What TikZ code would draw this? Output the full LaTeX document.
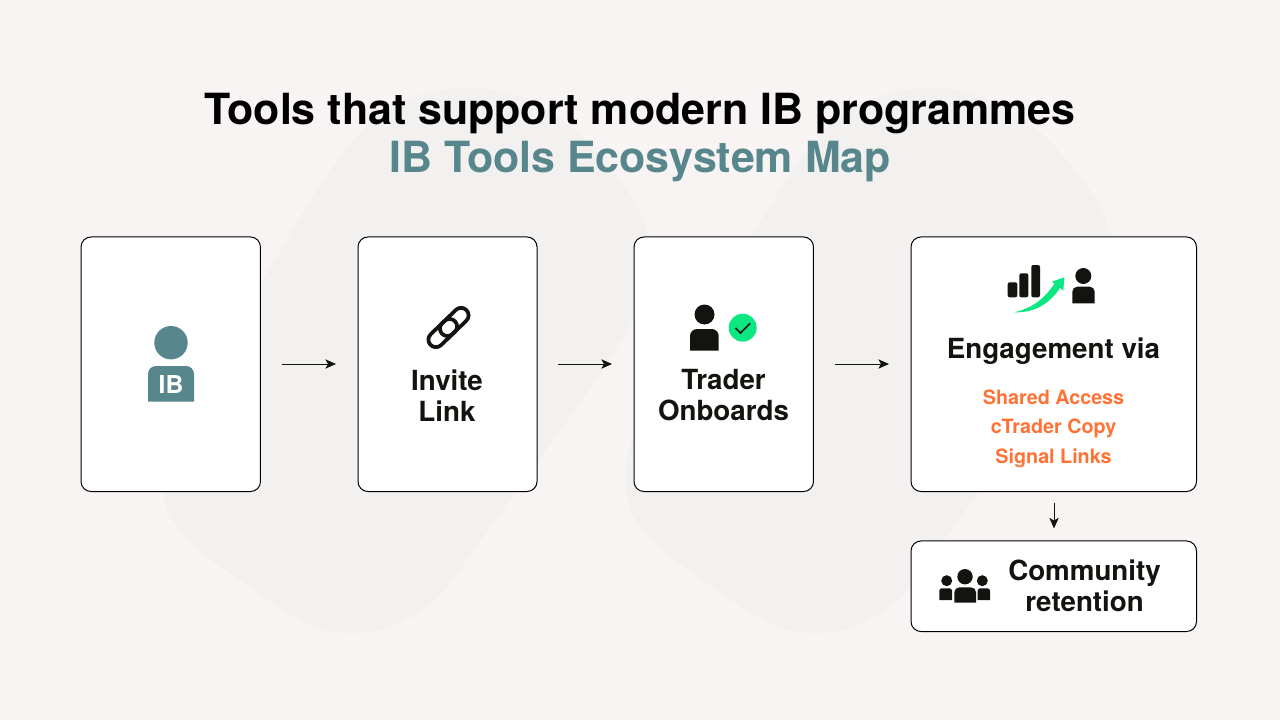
\documentclass[tikz,border=0pt]{standalone}
\usepackage{fontspec}
\setmainfont{TeX Gyre Heros}
\newfontfamily\headfont{TeX Gyre Heros Bold}
\usetikzlibrary{arrows.meta}
\definecolor{pagebg}{HTML}{F7F4F3}
\definecolor{blobbg}{HTML}{F2F1EF}
\definecolor{inkblack}{HTML}{13130F}
\definecolor{tealib}{HTML}{57868C}
\definecolor{greenok}{HTML}{0BE881}
\definecolor{orangetool}{HTML}{FF7236}
\tikzset{
  card/.style={draw=black,fill=white,line width=0.75pt,rounded corners=7.5pt,inner sep=0pt,outer sep=0pt},
  flow/.style={draw=inkblack,line width=0.75pt,-{Stealth[length=8pt,width=7pt,inset=2pt]}},
  heading/.style={font=\fontsize{32.2}{37}\headfont,anchor=center},
  label/.style={font=\fontsize{20.8}{23.2}\headfont,text=inkblack,align=center,anchor=center},
  tool/.style={font=\fontsize{14.8}{22}\headfont,text=orangetool,anchor=center},
}
% body of a person icon: left, right, top, bottom, corner radius
\newcommand{\personbody}[5]{(#1,#4) -- (#1,#3+#5) arc[start angle=180,end angle=270,radius=#5] -- (#2-#5,#3) arc[start angle=270,end angle=360,radius=#5] -- (#2,#4) -- cycle}
\begin{document}
\begin{tikzpicture}[x=0.75pt,y=-0.75pt]
\useasboundingbox (0,0) rectangle (1280,720);
\fill[pagebg] (0,0) rectangle (1280,720);
% background shapes
\foreach \blobx in {0,463}{
\fill[blobbg,xshift=\blobx*0.75pt] (375,118) .. controls (405,95) and (440,88) .. (470,88) .. controls (510,88) and (550,105) .. (585,140) .. controls (625,180) and (655,225) .. (650,265) .. controls (646,300) and (625,335) .. (600,375) -- (450,583) .. controls (420,620) and (385,633) .. (350,633) .. controls (325,633) and (300,622) .. (283,610) -- (207,557) .. controls (180,535) and (165,515) .. (163,490) .. controls (161,465) and (165,440) .. (185,410) -- (287,240) .. controls (310,200) and (340,150) .. (375,118) -- cycle;
}
% title
\node[heading,text=black] (title) at (640,114) {Tools that support modern IB programmes};
\node[heading,text=tealib] (subtitle) at (640,162) {IB Tools Ecosystem Map};
% cards
\node[card,minimum width=134.6pt,minimum height=190.9pt] (ib) at (170.75,364.25) {};
\node[card,minimum width=134.25pt,minimum height=190.9pt] (invite) at (447.5,364.25) {};
\node[card,minimum width=134.6pt,minimum height=190.9pt] (trader) at (723.75,364.25) {};
\node[card,minimum width=214.1pt,minimum height=190.9pt] (engage) at (1053.75,364.25) {};
\node[card,minimum width=214.1pt,minimum height=67.9pt] (community) at (1053.75,586.25) {};
% connectors
\coordinate (a1) at (282,364); \coordinate (a2) at (336,364);
\coordinate (b1) at (558,364); \coordinate (b2) at (612,364);
\coordinate (c1) at (835,364); \coordinate (c2) at (889,364);
\coordinate (d1) at (1054,503); \coordinate (d2) at (1054,528.5);
\draw[flow] (a1) -- (a2);
\draw[flow] (b1) -- (b2);
\draw[flow] (c1) -- (c2);
\draw[flow] (d1) -- (d2);
% IB icon
\fill[tealib] (171,342.7) circle (16.7);
\fill[tealib] \personbody{148}{194}{366}{401.7}{8};
\node[font=\fontsize{18.5}{19}\headfont,text=white] (iblabel) at (171,385) {IB};
% link icon
\begin{scope}[shift={(448.5,327.5)},rotate=44]
\draw[inkblack,line width=2.8pt,rounded corners=5.6pt] (-25,-7.5) rectangle (9,7.5);
\draw[inkblack,line width=2.8pt,rounded corners=5.6pt] (-9,-7.5) rectangle (25,7.5);
\end{scope}
\node[label] (invitetext) at (447,395.5) {Invite\\Link};
% trader icon
\fill[inkblack] (704.5,314.5) circle (10);
\fill[inkblack] \personbody{690}{718.7}{329}{350.7}{7};
\fill[greenok] (742.7,327.7) circle (14);
\draw[inkblack,line width=1.3pt] (735.5,328) -- (740.5,333) -- (750,323.5);
\node[label] (tradertext) at (723.5,395.5) {Trader\\Onboards};
% engagement icon
\fill[inkblack,rounded corners=1.5pt] (1007.7,282.3) rectangle (1017.3,297.3);
\fill[inkblack,rounded corners=1.5pt] (1019.3,273.3) rectangle (1028.3,297.3);
\fill[inkblack,rounded corners=1.5pt] (1031.3,265) rectangle (1040,297.3);
\fill[greenok] (1014.3,312.3) .. controls (1033,308) and (1045,298) .. (1054.5,283.5) -- (1051.7,281.7) -- (1064.3,277.3) -- (1063.3,290.7) -- (1060,288) .. controls (1050,303) and (1035,313) .. (1014.3,312.3) -- cycle;
\fill[inkblack] (1083.3,276) circle (8);
\fill[inkblack] \personbody{1072.3}{1094.7}{286.7}{303.3}{5};
\node[label] (engagetext) at (1053.5,351.5) {Engagement via};
\node[tool] (tool1) at (1053.5,397) {Shared Access};
\node[tool] (tool2) at (1053.5,428) {cTrader Copy};
\node[tool] (tool3) at (1053.5,458) {Signal Links};
% community icon
\fill[inkblack] (946.7,580.7) circle (5.5);
\fill[inkblack] (982.3,580.7) circle (5.5);
\fill[inkblack] (965,576.7) circle (7.7);
\fill[inkblack] \personbody{939.3}{952}{588.3}{600}{2.5};
\fill[inkblack] \personbody{977.7}{990}{588.3}{600}{2.5};
\fill[inkblack] \personbody{954.3}{976}{587.3}{602.7}{5};
\node[label] (communitytext) at (1084.5,586) {Community\\retention};
\end{tikzpicture}
\end{document}
